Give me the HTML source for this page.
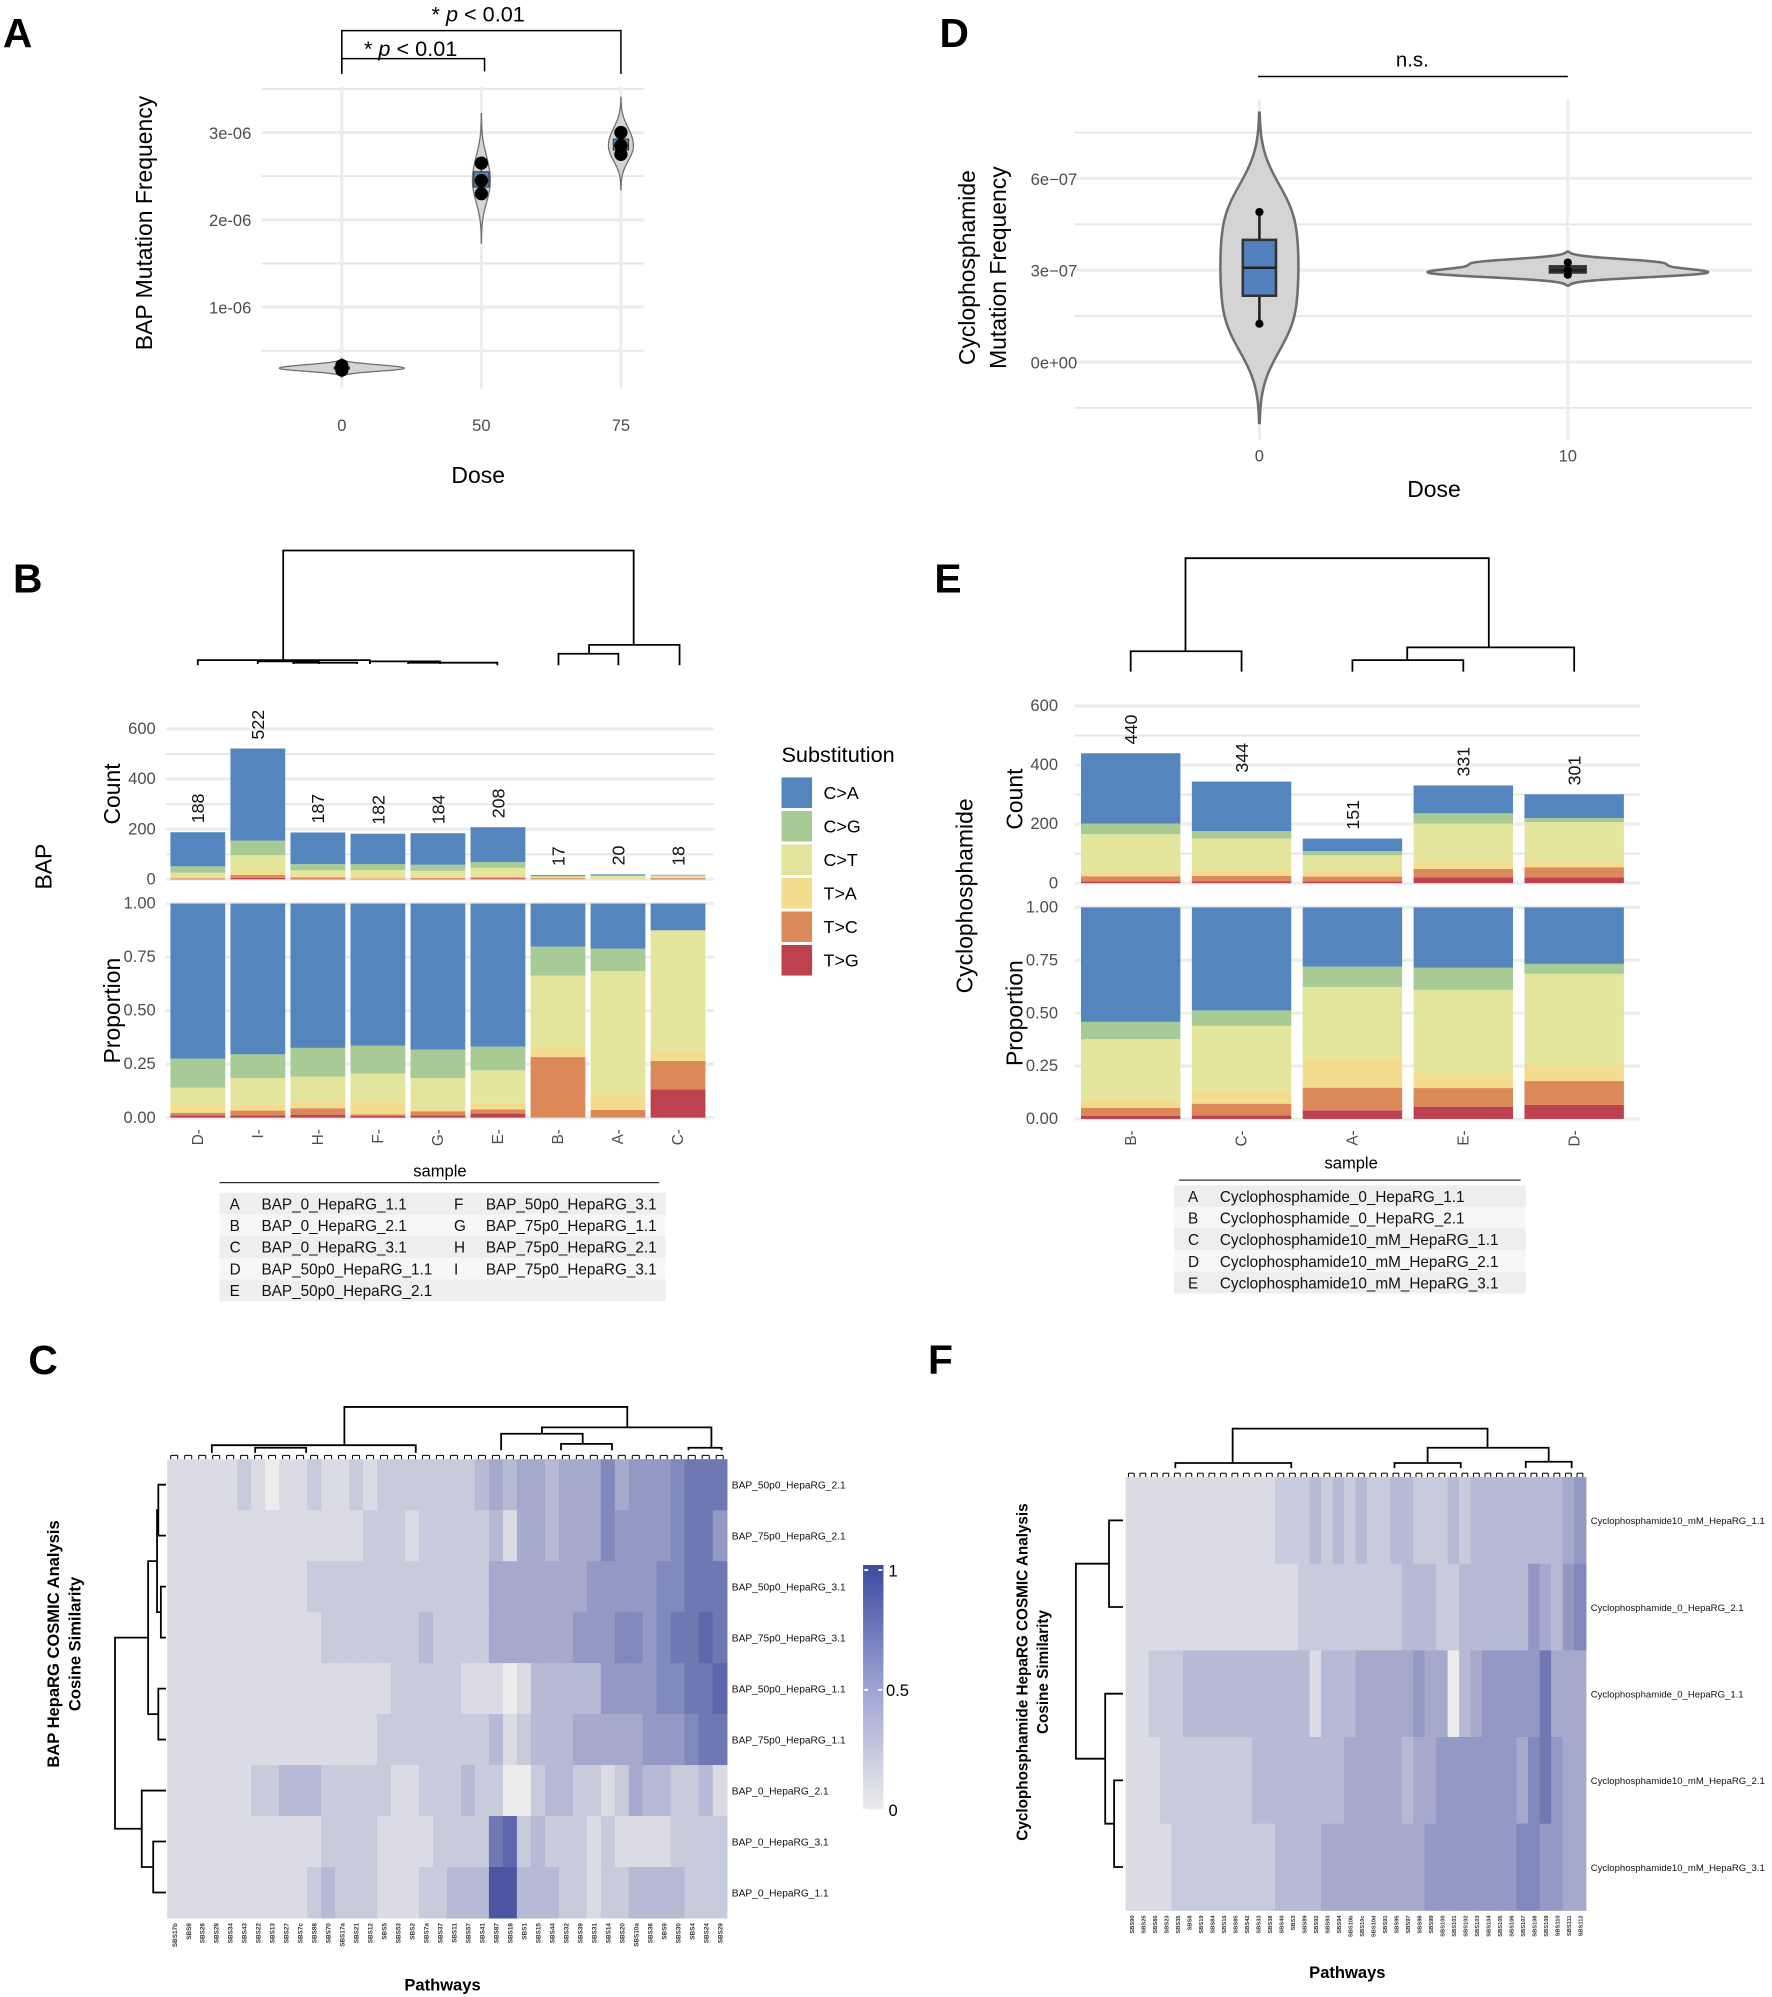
<!DOCTYPE html>
<html><head><meta charset="utf-8">
<style>
body{margin:0;background:#fff}
svg{display:block;font-family:"Liberation Sans",sans-serif}
.tick{font-size:13px;fill:#4d4d4d}
.lbl{font-size:18px;fill:#000}
.panel{font-size:32px;font-weight:bold;fill:#000}
.grid{stroke:#e6e6e6;stroke-width:1.5}
.gridm{stroke:#ededed;stroke-width:2.5}
.dl{stroke:#000;stroke-width:1.4;fill:none}
.tb{font-size:12px;fill:#111}
</style></head>
<body>
<svg id="fig" width="1772" height="1997" viewBox="0 0 1390 1567">
<rect width="1390" height="1567" fill="#fff"/>

<text class="panel" x="2" y="37">A</text>
<text class="panel" x="737" y="37">D</text>
<text class="panel" x="10" y="465">B</text>
<text class="panel" x="733" y="465">E</text>
<text class="panel" x="22" y="1078">C</text>
<text class="panel" x="728" y="1078">F</text>

<g id="panelA">
  <g id="aGrid"></g>
  <text class="lbl" transform="translate(119,175) rotate(-90)" text-anchor="middle" font-size="19">BAP Mutation Frequency</text>
  <text class="lbl" x="375" y="379" text-anchor="middle">Dose</text>
  <g>
    <path d="M268 56V46H380V56" fill="none" stroke="#000" stroke-width="1.2"/>
    <text x="322" y="44" text-anchor="middle" font-size="17">* <tspan font-style="italic">p</tspan> &lt; 0.01</text>
  </g>
  <g>
    <path d="M268 58V24H487V58" fill="none" stroke="#000" stroke-width="1.2"/>
    <text x="375" y="17" text-anchor="middle" font-size="17">* <tspan font-style="italic">p</tspan> &lt; 0.01</text>
  </g>
</g>

<g id="panelD">
  <g id="dGrid"></g>
  <text class="lbl" transform="translate(765,210) rotate(-90)" text-anchor="middle">Cyclophosphamide</text>
  <text class="lbl" transform="translate(789,210) rotate(-90)" text-anchor="middle">Mutation Frequency</text>
  <text class="lbl" x="1125" y="390" text-anchor="middle">Dose</text>
  <g>
    <path d="M987 60H1230" fill="none" stroke="#000" stroke-width="1.2"/>
    <text x="1108" y="52" text-anchor="middle" font-size="16">n.s.</text>
  </g>
</g>

<g id="panelB">
  <g>
    <path class="dl" d="M222 518V432H497V506"/>
    <path class="dl" d="M155 522V518H290V521"/>
    <path class="dl" d="M202 521V519H250V521"/>
    <path class="dl" d="M230 521V520H280V521"/>
    <path class="dl" d="M290 521V519H345V521"/>
    <path class="dl" d="M320 521V520H390V522"/>
    <path class="dl" d="M438 522V513H485V522"/>
    <path class="dl" d="M462 513V506H533V522"/>
  </g>
  <g id="bGrid"></g>
  <text class="lbl" transform="translate(94,623) rotate(-90)" text-anchor="middle">Count</text>
  <text class="lbl" transform="translate(94,793) rotate(-90)" text-anchor="middle">Proportion</text>
  <text class="lbl" transform="translate(40,680) rotate(-90)" text-anchor="middle">BAP</text>
  <text x="345" y="923" text-anchor="middle" font-size="13">sample</text>
  <g>
    <text x="613" y="598" font-size="17">Substitution</text>
    <g id="legendItems"></g>
  </g>
  <g>
    <line x1="172" y1="928" x2="517" y2="928" stroke="#333" stroke-width="1"/>
    <g id="bTable"></g>
  </g>
</g>

<g id="panelE">
  <g>
    <path class="dl" d="M930 511V438H1168V508"/>
    <path class="dl" d="M887 527V511H974V527"/>
    <path class="dl" d="M1104 518V508H1235V527"/>
    <path class="dl" d="M1061 527V518H1148V527"/>
  </g>
  <g id="eGrid"></g>
  <text class="lbl" transform="translate(802,627) rotate(-90)" text-anchor="middle">Count</text>
  <text class="lbl" transform="translate(802,795) rotate(-90)" text-anchor="middle">Proportion</text>
  <text class="lbl" transform="translate(763,703) rotate(-90)" text-anchor="middle">Cyclophosphamide</text>
  <text x="1060" y="917" text-anchor="middle" font-size="13">sample</text>
  <g>
    <line x1="925" y1="926" x2="1193" y2="926" stroke="#333" stroke-width="1"/>
    <g id="eTable"></g>
  </g>
</g>

<g id="panelC">
  <text transform="translate(46,1290) rotate(-90)" text-anchor="middle" font-size="13" font-weight="bold">BAP HepaRG COSMIC Analysis</text>
  <text transform="translate(63,1290) rotate(-90)" text-anchor="middle" font-size="13" font-weight="bold">Cosine Similarity</text>
  <text x="347" y="1562" text-anchor="middle" font-size="13" font-weight="bold">Pathways</text>
  <g id="cHeat"></g>
  <g id="cDendro">
    <path class="dl" d="M270 1134V1104H492V1120"/>
    <path class="dl" d="M166 1140V1134H326V1140"/>
    <path class="dl" d="M200 1140V1136H240V1140"/>
    <path class="dl" d="M425 1125V1120H558V1136"/>
    <path class="dl" d="M393 1138V1125H457V1133"/>
    <path class="dl" d="M440 1138V1133H480V1138"/>
    <path class="dl" d="M540 1138V1136H566V1138"/>
    <path class="dl" d="M130 1165H124V1205H130"/>
    <path class="dl" d="M130 1245H126V1285H130"/>
    <path class="dl" d="M124 1185H123V1265H126"/>
    <path class="dl" d="M130 1325H124V1365H130"/>
    <path class="dl" d="M123 1225H116V1345H124"/>
    <path class="dl" d="M130 1445H120V1485H130"/>
    <path class="dl" d="M130 1405H111V1465H120"/>
    <path class="dl" d="M116 1285H90V1435H111"/>
  </g>
  <g>
    <defs><linearGradient id="cbg" x1="0" y1="0" x2="0" y2="1">
      <stop offset="0" stop-color="#3a4a9f"/><stop offset="0.5" stop-color="#9ca3d3"/><stop offset="1" stop-color="#ececec"/>
    </linearGradient></defs>
    <rect x="677" y="1228" width="16" height="192" fill="url(#cbg)"/>
    <path d="M678 1232h3M689 1232h3M678 1326h3M689 1326h3M678 1420h3M689 1420h3" stroke="#fff" stroke-width="1.5"/>
    <text x="697" y="1237" font-size="13">1</text>
    <text x="695" y="1331" font-size="13">0.5</text>
    <text x="697" y="1425" font-size="13">0</text>
  </g>
</g>

<g id="panelF">
  <text transform="translate(806,1312) rotate(-90)" text-anchor="middle" font-size="12" font-weight="bold">Cyclophosphamide HepaRG COSMIC Analysis</text>
  <text transform="translate(822,1312) rotate(-90)" text-anchor="middle" font-size="12" font-weight="bold">Cosine Similarity</text>
  <text x="1057" y="1552" text-anchor="middle" font-size="13" font-weight="bold">Pathways</text>
  <g id="fHeat"></g>
  <g>
    <path class="dl" d="M967 1148V1121H1167V1136"/>
    <path class="dl" d="M922 1152V1148H1013V1152"/>
    <path class="dl" d="M1120 1148V1136H1215V1147"/>
    <path class="dl" d="M1094 1152V1148H1146V1152"/>
    <path class="dl" d="M1197 1152V1147H1233V1152"/>
    <path class="dl" d="M881 1193H870V1261H881"/>
    <path class="dl" d="M881 1397H874V1465H881"/>
    <path class="dl" d="M881 1329H867V1431H874"/>
    <path class="dl" d="M870 1227H844V1380H867"/>
  </g>
</g>
</svg>

<script>
// ---------- DATA ----------
const aDoses = ['0', '50', '75'];
const aPointsDose0 = [0.33, 0.30, 0.28];
const aPointsDose50 = [2.65, 2.45, 2.30];
const aPointsDose75 = [3.00, 2.85, 2.75];
const aTickValues = [1, 2, 3];
const aTickLabels = ['1e-06', '2e-06', '3e-06'];

const dDoses = ['0', '10'];
const dPointsDose0 = [4.90, 3.08, 1.25];
const dPointsDose10 = [3.25, 3.00, 2.85];
const dTickValues = [0, 3, 6];
const dTickLabels = ['0e+00', '3e\u221207', '6e\u221207'];

const subClasses = ['C>A', 'C>G', 'C>T', 'T>A', 'T>C', 'T>G'];
const subColors = ['#5585bd', '#a8ca94', '#e3e59c', '#f4dc8e', '#dc895a', '#be4150'];

const bSamples = ['D', 'I', 'H', 'F', 'G', 'E', 'B', 'A', 'C'];
const bTotals = [188, 522, 187, 182, 184, 208, 17, 20, 18];
const bCA = [0.724, 0.704, 0.674, 0.664, 0.682, 0.668, 0.201, 0.210, 0.125];
const bCG = [0.136, 0.111, 0.134, 0.130, 0.133, 0.111, 0.135, 0.105, 0.000];
const bCT = [0.081, 0.123, 0.114, 0.131, 0.148, 0.156, 0.337, 0.576, 0.568];
const bTA = [0.036, 0.029, 0.034, 0.059, 0.007, 0.026, 0.044, 0.073, 0.042];
const bTC = [0.012, 0.022, 0.030, 0.008, 0.019, 0.020, 0.283, 0.036, 0.133];
const bTG = [0.011, 0.011, 0.014, 0.008, 0.011, 0.019, 0.000, 0.000, 0.132];
const bTableLetters = ['A', 'B', 'C', 'D', 'E', 'F', 'G', 'H', 'I'];
const bTableNames = ['BAP_0_HepaRG_1.1', 'BAP_0_HepaRG_2.1', 'BAP_0_HepaRG_3.1', 'BAP_50p0_HepaRG_1.1', 'BAP_50p0_HepaRG_2.1', 'BAP_50p0_HepaRG_3.1', 'BAP_75p0_HepaRG_1.1', 'BAP_75p0_HepaRG_2.1', 'BAP_75p0_HepaRG_3.1'];

const eSamples = ['B', 'C', 'A', 'E', 'D'];
const eTotals = [440, 344, 151, 331, 301];
const eCA = [0.541, 0.487, 0.280, 0.285, 0.267];
const eCG = [0.082, 0.073, 0.096, 0.105, 0.047];
const eCT = [0.286, 0.305, 0.332, 0.393, 0.436];
const eTA = [0.038, 0.063, 0.144, 0.071, 0.071];
const eTC = [0.039, 0.055, 0.107, 0.088, 0.113];
const eTG = [0.014, 0.017, 0.041, 0.058, 0.066];
const eTableLetters = ['A', 'B', 'C', 'D', 'E'];
const eTableNames = ['Cyclophosphamide_0_HepaRG_1.1', 'Cyclophosphamide_0_HepaRG_2.1', 'Cyclophosphamide10_mM_HepaRG_1.1', 'Cyclophosphamide10_mM_HepaRG_2.1', 'Cyclophosphamide10_mM_HepaRG_3.1'];

const cRows = ['BAP_50p0_HepaRG_2.1', 'BAP_75p0_HepaRG_2.1', 'BAP_50p0_HepaRG_3.1', 'BAP_75p0_HepaRG_3.1', 'BAP_50p0_HepaRG_1.1', 'BAP_75p0_HepaRG_1.1', 'BAP_0_HepaRG_2.1', 'BAP_0_HepaRG_3.1', 'BAP_0_HepaRG_1.1'];
const cCols = ['SBS17b','SBS6','SBS26','SBS28','SBS34','SBS43','SBS22','SBS13','SBS27','SBS7c','SBS88','SBS70','SBS17a','SBS21','SBS12','SBS5','SBS53','SBS2','SBS7a','SBS37','SBS11','SBS57','SBS41','SBS87','SBS18','SBS1','SBS15','SBS44','SBS32','SBS39','SBS31','SBS14','SBS20','SBS10a','SBS36','SBS9','SBS30','SBS4','SBS24','SBS29'];
const cVal0 = [1,1,1,1,1,2,1,0,1,1,2,1,1,2,1,2,2,2,2,2,2,2,3,4,3,4,4,3,4,4,4,6,4,5,5,5,6,7,7,7];
const cVal1 = [1,1,1,1,1,1,1,1,1,1,1,1,1,1,2,2,2,1,2,2,2,2,2,3,1,4,4,3,4,4,4,6,5,5,5,5,6,7,7,5];
const cVal2 = [1,1,1,1,1,1,1,1,1,1,2,2,2,2,2,2,2,2,2,2,2,2,2,4,4,4,4,4,4,4,5,5,5,5,5,6,6,7,7,7];
const cVal3 = [1,1,1,1,1,1,1,1,1,1,1,2,2,2,2,2,2,2,3,2,2,2,2,4,4,4,4,4,4,5,5,5,6,6,5,6,7,7,8,7];
const cVal4 = [1,1,1,1,1,1,1,1,1,1,1,1,1,1,1,1,2,2,2,2,2,1,1,1,0,1,3,3,3,3,3,5,5,5,5,6,6,7,7,8];
const cVal5 = [1,1,1,1,1,1,1,1,1,1,1,1,1,1,1,2,2,2,2,2,2,2,2,3,1,2,3,3,3,4,4,4,4,4,5,5,5,6,7,7];
const cVal6 = [1,1,1,1,1,1,2,2,3,3,3,2,2,2,2,2,1,1,2,2,2,3,2,2,0,0,2,3,3,2,2,1,2,4,3,3,2,2,3,1];
const cVal7 = [1,1,1,1,1,1,1,1,1,1,1,2,2,2,2,1,1,1,1,2,2,2,2,7,8,2,3,2,2,2,1,2,1,1,1,1,2,2,2,2];
const cVal8 = [1,1,1,1,1,1,1,1,1,1,2,3,2,2,2,1,1,1,2,2,3,3,3,9,9,3,3,3,2,2,1,2,2,3,3,3,3,2,2,2];

const fRows = ['Cyclophosphamide10_mM_HepaRG_1.1', 'Cyclophosphamide_0_HepaRG_2.1', 'Cyclophosphamide_0_HepaRG_1.1', 'Cyclophosphamide10_mM_HepaRG_2.1', 'Cyclophosphamide10_mM_HepaRG_3.1'];
const fCols = ['SBS90','SBS25','SBS86','SBS23','SBS35','SBS8','SBS19','SBS84','SBS16','SBS85','SBS42','SBS33','SBS38','SBS40','SBS3','SBS89','SBS92','SBS93','SBS94','SBS10b','SBS10c','SBS10d','SBS91','SBS95','SBS97','SBS98','SBS99','SBS100','SBS101','SBS102','SBS103','SBS104','SBS105','SBS106','SBS107','SBS108','SBS109','SBS110','SBS111','SBS112'];
const fVal0 = [1,1,1,1,1,1,1,1,1,1,1,1,1,2,2,2,3,2,3,2,3,2,2,3,3,2,2,2,3,2,3,3,3,3,3,3,3,3,4,5];
const fVal1 = [1,1,1,1,1,1,1,1,1,1,1,1,1,1,1,2,2,2,2,2,2,2,2,2,3,3,3,2,2,3,3,3,3,3,3,5,4,3,5,6];
const fVal2 = [1,1,2,2,2,3,3,3,3,3,3,3,3,3,3,3,1,3,3,3,4,4,4,4,4,5,4,4,0,3,4,5,5,5,5,5,7,4,4,4];
const fVal3 = [1,1,1,2,2,2,2,2,2,2,2,3,3,3,3,3,3,3,3,4,4,4,4,4,3,4,4,5,5,5,5,5,5,5,4,6,7,5,4,4];
const fVal4 = [1,1,1,1,2,2,2,2,2,2,2,2,2,3,3,3,3,4,4,4,4,4,4,4,4,4,5,5,5,5,5,5,5,5,6,6,5,5,4,4];

// ---------- HELPERS ----------
const NS = 'http://www.w3.org/2000/svg';
const svg = document.getElementById('fig');
function el(tag, attrs, parent) {
  const e = document.createElementNS(NS, tag);
  for (const k in attrs) e.setAttribute(k, attrs[k]);
  (parent || svg).appendChild(e);
  return e;
}
function quantile(arr, q) {
  const s = arr.slice().sort((a, b) => a - b);
  const pos = (s.length - 1) * q, lo = Math.floor(pos), hi = Math.ceil(pos);
  return s[lo] + (s[hi] - s[lo]) * (pos - lo);
}
function sd(arr) {
  const m = arr.reduce((a, b) => a + b, 0) / arr.length;
  return Math.sqrt(arr.reduce((a, b) => a + (b - m) * (b - m), 0) / (arr.length - 1));
}
function bwNrd0(arr, adjust) {
  const iqr = (quantile(arr, 0.75) - quantile(arr, 0.25)) / 1.34;
  return 0.9 * Math.min(sd(arr), iqr) * Math.pow(arr.length, -0.2) * adjust;
}
function kde(arr, bw, v) {
  let s = 0;
  for (const x of arr) s += Math.exp(-0.5 * ((v - x) / bw) ** 2);
  return s / (arr.length * bw * Math.sqrt(2 * Math.PI));
}
function violinInfo(arr, adjust) {
  const bw = bwNrd0(arr, adjust);
  const lo = Math.min(...arr) - 3 * bw, hi = Math.max(...arr) + 3 * bw;
  const pts = [];
  let peak = 0;
  for (let i = 0; i <= 80; i++) {
    const v = lo + (hi - lo) * i / 80;
    const d = kde(arr, bw, v);
    peak = Math.max(peak, d);
    pts.push([v, d]);
  }
  return { pts, peak };
}
function violinPath(info, cx, yScale, wScale) {
  let L = '', R = '';
  info.pts.forEach(([v, d], i) => {
    const w = wScale(d);
    L += (i ? 'L' : 'M') + (cx - w).toFixed(2) + ' ' + yScale(v).toFixed(2);
  });
  for (let i = info.pts.length - 1; i >= 0; i--) {
    const [v, d] = info.pts[i];
    R += 'L' + (cx + wScale(d)).toFixed(2) + ' ' + yScale(v).toFixed(2);
  }
  return L + R + 'Z';
}

// ---------- PANEL A ----------
const yA = v => 309.5 - v * 68.5;
const xA = i => 268 + i * 109.5;
const aG = document.getElementById('aGrid');
[0.5, 1.5, 2.5, 3.5].forEach(v => {
  const l = el('line', { x1: 205, x2: 505, y1: yA(v), y2: yA(v), class: 'grid' }, aG);
  
  
});
aTickValues.forEach((v, i) => {
  const l = el('line', { x1: 205, x2: 505, y1: yA(v), y2: yA(v), class: 'gridm' }, aG);
  
  
  const t = el('text', { x: 197, y: yA(v) + 5, 'text-anchor': 'end', class: 'tick', 'font-size': 16 }, aG);
  t.textContent = aTickLabels[i];
  
  
});
aDoses.forEach((d, i) => {
  const l = el('line', { x1: xA(i), x2: xA(i), y1: 68, y2: 305, class: 'gridm' }, aG);
  
  
  const t = el('text', { x: xA(i), y: 338, 'text-anchor': 'middle', class: 'tick', 'font-size': 16 }, aG);
  t.textContent = d;
  
  
});
const aGroups = [aPointsDose0, aPointsDose50, aPointsDose75];
const aInfos = aGroups.map(g => violinInfo(g, 2));
const aPeak = Math.max(...aInfos.map(f => f.peak));
aGroups.forEach((g, i) => {
  const cx = xA(i);
  const v = el('path', { d: violinPath(aInfos[i], cx, yA, d => 49 * d / aPeak), fill: '#d4d4d4', stroke: '#6e6e6e', 'stroke-width': 1 });
  
  
  const q1 = quantile(g, 0.25), q3 = quantile(g, 0.75), med = quantile(g, 0.5);
  const wl = el('line', { x1: cx, x2: cx, y1: yA(Math.max(...g)), y2: yA(Math.min(...g)), stroke: '#333', 'stroke-width': 1 });
  
  
  const b = el('rect', { x: cx - 6, y: yA(q3), width: 12, height: Math.max(0.5, yA(q1) - yA(q3)), fill: '#5383c0', stroke: '#333', 'stroke-width': 0.8 });
  
  
  const m = el('line', { x1: cx - 6, x2: cx + 6, y1: yA(med), y2: yA(med), stroke: '#333', 'stroke-width': 1.2 });
  
  
  g.forEach(p => {
    const c = el('circle', { cx: cx, cy: yA(p), r: 5.2, fill: '#000' });
    
    
  });
});

// ---------- PANEL D ----------
const yD = v => 284 - v * 24;
const xD = i => 988 + i * 242;
const dG = document.getElementById('dGrid');
[-1.5, 1.5, 4.5, 7.5].forEach(v => {
  const l = el('line', { x1: 843, x2: 1375, y1: yD(v), y2: yD(v), class: 'grid' }, dG);
  
  
});
dTickValues.forEach((v, i) => {
  const l = el('line', { x1: 843, x2: 1375, y1: yD(v), y2: yD(v), class: 'gridm' }, dG);
  
  
  const t = el('text', { x: 845, y: yD(v) + 5, 'text-anchor': 'end', class: 'tick', 'font-size': 14 }, dG);
  t.textContent = dTickLabels[i];
  
  
});
dDoses.forEach((d, i) => {
  const l = el('line', { x1: xD(i), x2: xD(i), y1: 78, y2: 345, class: 'gridm' }, dG);
  
  
  const t = el('text', { x: xD(i), y: 362, 'text-anchor': 'middle', class: 'tick', 'font-size': 14 }, dG);
  t.textContent = d;
  
  
});
const dGroups = [dPointsDose0, dPointsDose10];
const dInfos = dGroups.map(g => violinInfo(g, 1.1));
const dPeak = Math.max(...dInfos.map(f => f.peak));
dGroups.forEach((g, i) => {
  const cx = xD(i);
  const v = el('path', { d: violinPath(dInfos[i], cx, yD, d => 110 * Math.pow(dInfos[i].peak / dPeak, 0.55) * (d / dInfos[i].peak)), fill: '#d4d4d4', stroke: '#6e6e6e', 'stroke-width': 2 });
  
  
  const q1 = quantile(g, 0.25), q3 = quantile(g, 0.75), med = quantile(g, 0.5);
  const wl = el('line', { x1: cx, x2: cx, y1: yD(Math.max(...g)), y2: yD(Math.min(...g)), stroke: '#222', 'stroke-width': 2 });
  
  
  const bw = i === 0 ? 26 : 28;
  const b = el('rect', { x: cx - bw / 2, y: yD(q3), width: bw, height: yD(q1) - yD(q3), fill: i === 0 ? '#5281be' : '#3a3a3a', stroke: '#333', 'stroke-width': 2 });
  
  
  const m = el('line', { x1: cx - bw / 2, x2: cx + bw / 2, y1: yD(med), y2: yD(med), stroke: '#222', 'stroke-width': 2 });
  
  
  g.forEach((p, k) => {
    if (i === 0 && k === 1) return;
    const c = el('circle', { cx: cx, cy: yD(p), r: 3.2, fill: '#000' });
    
    
  });
});

// ---------- STACKED BARS ----------
function drawStacked(cfg) {
  const g = document.getElementById(cfg.gridId);
  [0, 100, 200, 300, 400, 500, 600].forEach(v => {
    const l = el('line', { x1: cfg.x0, x2: cfg.x1, y1: cfg.yc(v), y2: cfg.yc(v), class: v % 200 ? 'grid' : 'gridm' }, g);
    
    
    if (v % 200 === 0) {
      const t = el('text', { x: cfg.tx, y: cfg.yc(v) + 4, 'text-anchor': 'end', class: 'tick', 'font-size': 12 }, g);
      t.textContent = v;
      
      
    }
  });
  [0, 0.25, 0.5, 0.75, 1].forEach(v => {
    const l = el('line', { x1: cfg.x0, x2: cfg.x1, y1: cfg.yp(v), y2: cfg.yp(v), class: 'gridm' }, g);
    
    
    const t = el('text', { x: cfg.tx, y: cfg.yp(v) + 4, 'text-anchor': 'end', class: 'tick', 'font-size': 12 }, g);
    t.textContent = v.toFixed(2);
    
    
  });
  const order = [5, 4, 3, 2, 1, 0];
  cfg.samples.forEach((s, i) => {
    const cx = cfg.xc(i);
    let accP = 0;
    order.forEach(k => {
      const p = cfg.props[k][i];
      const cnt0 = accP * cfg.totals[i], cnt1 = (accP + p) * cfg.totals[i];
      const rc = el('rect', { x: cx - cfg.w / 2, y: cfg.yc(cnt1), width: cfg.w, height: Math.max(0, cfg.yc(cnt0) - cfg.yc(cnt1)), fill: subColors[k] });
      
      
      const rp = el('rect', { x: cx - cfg.w / 2, y: cfg.yp(accP + p), width: cfg.w, height: Math.max(0, cfg.yp(accP) - cfg.yp(accP + p)), fill: subColors[k] });
      
      
      accP += p;
    });
    const lab = el('text', { transform: 'translate(' + (cx + 5) + ',' + (cfg.yc(cfg.totals[i]) - 7) + ') rotate(-90)', 'font-size': 14, fill: '#111' });
    lab.textContent = cfg.totals[i];
    
    
    const xt = el('text', { transform: 'translate(' + (cx + 4) + ',' + (cfg.yp(0) + 9) + ') rotate(-90)', 'text-anchor': 'end', 'font-size': 12, fill: '#4d4d4d' });
    xt.textContent = s + '-';
    
    
  });
}
drawStacked({
  gridId: 'bGrid', samples: bSamples, totals: bTotals, props: [bCA, bCG, bCT, bTA, bTC, bTG],
  xc: i => 155 + i * 47.1, w: 43, yc: v => 690 - v * 118 / 600, yp: p => 877 - p * 168,
  x0: 130, x1: 560, tx: 122
});
drawStacked({
  gridId: 'eGrid', samples: eSamples, totals: eTotals, props: [eCA, eCG, eCT, eTA, eTC, eTG],
  xc: i => 887 + i * 87, w: 78, yc: v => 693 - v * 139 / 600, yp: p => 878 - p * 166,
  x0: 843, x1: 1287, tx: 830
});

const lg = document.getElementById('legendItems');
subClasses.forEach((s, i) => {
  const r = el('rect', { x: 613, y: 610 + i * 26.3, width: 24, height: 24, fill: subColors[i] }, lg);
  
  
  const t = el('text', { x: 646, y: 627 + i * 26.3, 'font-size': 14 }, lg);
  t.textContent = s;
  
  
});

function drawTable(gid, letters, names, x0, y0, w, colCount, colX) {
  const g = document.getElementById(gid);
  const rows = Math.ceil(letters.length / colCount);
  for (let r = 0; r < rows; r++) {
    const bg = el('rect', { x: x0, y: y0 + r * 17, width: w, height: 17, fill: r % 2 ? '#f7f7f7' : '#eeeeee' }, g);
    
    
  }
  letters.forEach((L, i) => {
    const c = Math.floor(i / rows), r = i % rows;
    const a = el('text', { x: colX[c][0], y: y0 + r * 17 + 13, class: 'tb' }, g);
    a.textContent = L;
    
    
    const b = el('text', { x: colX[c][1], y: y0 + r * 17 + 13, class: 'tb' }, g);
    b.textContent = names[i];
    
    
  });
}
drawTable('bTable', bTableLetters, bTableNames, 172, 936, 350, 2, [[180, 205], [356, 381]]);
drawTable('eTable', eTableLetters, eTableNames, 921, 930, 276, 1, [[932, 957]]);

// ---------- HEATMAPS ----------
function heatColor(v) {
  const t = Math.max(0, Math.min(1, v / 10));
  const a = [236, 236, 236], b = [58, 70, 155];
  return 'rgb(' + a.map((c, k) => Math.round(c + (b[k] - c) * t)).join(',') + ')';
}
function drawHeat(gid, rows, cols, vals, x0, x1, y0, rowH, labFont, colFont) {
  const g = document.getElementById(gid);
  const cw = (x1 - x0) / cols.length;
  vals.forEach((row, r) => {
    row.forEach((v, c) => {
      const rc = el('rect', { x: x0 + c * cw, y: y0 + r * rowH, width: cw + 0.6, height: rowH + 0.4, fill: heatColor(v) }, g);
      
      
    });
    const t = el('text', { x: x1 + 4, y: y0 + r * rowH + rowH / 2 + 3, 'font-size': labFont, fill: '#111' }, g);
    t.textContent = rows[r];
    
    
  });
  const yb = y0 + rows.length * rowH;
  cols.forEach((c, i) => {
    const cx = x0 + (i + 0.5) * cw;
    const t = el('text', { transform: 'translate(' + (cx + 2) + ',' + (yb + 4) + ') rotate(-90)', 'text-anchor': 'end', 'font-size': colFont, fill: '#333', 'font-weight': 'bold' }, g);
    t.textContent = c;
    
    
  });
  // dense leaf fringe
  const nLeaf = cols.length * 2;
  const lw = (x1 - x0) / nLeaf;
  for (let j = 0; j < nLeaf; j++) {
    const lx = x0 + (j + 0.5) * lw;
    const tk = el('line', { x1: lx, x2: lx, y1: y0 - 3, y2: y0, stroke: '#000', 'stroke-width': 0.8 }, g);
    
    
    if (j % 2 === 0) {
      const h = el('line', { x1: lx, x2: lx + lw, y1: y0 - 3, y2: y0 - 3, stroke: '#000', 'stroke-width': 0.8 }, g);
      
      
    }
  }
}
drawHeat('cHeat', cRows, cCols, [cVal0, cVal1, cVal2, cVal3, cVal4, cVal5, cVal6, cVal7, cVal8], 131, 570, 1145, 40, 8, 5);
drawHeat('fHeat', fRows, fCols, [fVal0, fVal1, fVal2, fVal3, fVal4], 883, 1244, 1159, 68, 7.5, 4.5);
</script>
</body></html>
